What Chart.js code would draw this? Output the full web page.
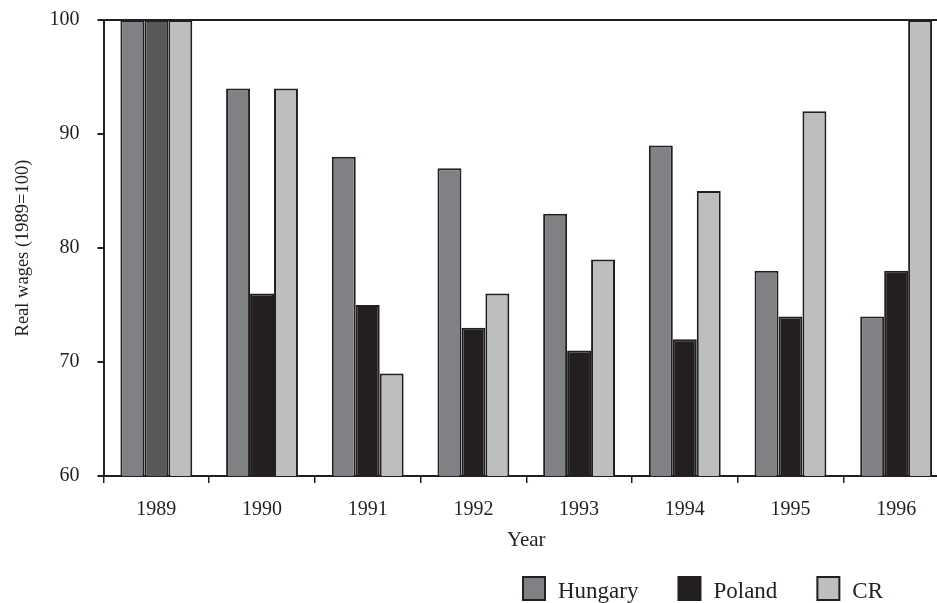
<!DOCTYPE html>
<html>
<head>
<meta charset="utf-8">
<script src="https://cdn.jsdelivr.net/npm/chart.js@4/dist/chart.umd.min.js"></script>
<style>
  html, body { margin: 0; padding: 0; background: #fff; overflow: hidden; }
  #wrap { position: relative; width: 964px; height: 603px; }
</style>
</head>
<body>
<div id="wrap"><canvas id="diagram"></canvas></div>
<script>
let years = ['1989', '1990', '1991', '1992', '1993', '1994', '1995', '1996'];
let hungary = [100, 94, 88, 87, 83, 89, 78, 74];
let poland = [100, 76, 75, 73, 71, 72, 74, 78];
let cr = [100, 94, 69, 76, 79, 85, 92, 100];
let seriesNames = ['Hungary', 'Poland', 'CR'];
let yTicks = [60, 70, 80, 90, 100];

let ink = '#231f20';
let seriesColors = ['#808184', '#231f20', '#bcbec0'];
// the base year bar for Poland is printed a shade lighter
let polandColors = poland.map((v, i) => i === 0 ? '#58595b' : seriesColors[1]);

let serif = '"Liberation Serif", "Times New Roman", serif';

// legend drawn by hand, bottom right
let legendPlugin = {
    id: 'bottomLegend',
    afterDraw(chart) {
        let ctx = chart.ctx;
        ctx.save();
        ctx.font = '23px ' + serif;
        ctx.textBaseline = 'alphabetic';
        let x = 523;
        chart.data.datasets.forEach((ds, i) => {
            ctx.fillStyle = seriesColors[i];
            ctx.fillRect(x, 577, 22, 23);
            ctx.lineWidth = 2;
            ctx.strokeStyle = ink;
            ctx.strokeRect(x, 577, 22, 23);
            ctx.fillStyle = ink;
            ctx.fillText(ds.label, x + 35, 598);
            x += 35 + ctx.measureText(ds.label).width + 40;
        });
        ctx.restore();
    }
};

let datasets = [
    { label: seriesNames[0], data: hungary, backgroundColor: seriesColors[0] },
    { label: seriesNames[1], data: poland, backgroundColor: polandColors },
    { label: seriesNames[2], data: cr, backgroundColor: seriesColors[2] }
].map(d => Object.assign(d, {
    borderColor: ink,
    borderWidth: 2,
    categoryPercentage: 0.68,
    barPercentage: 1.0
}));

new Chart(document.getElementById('diagram'), {
    type: 'bar',
    data: { labels: years, datasets: datasets },
    plugins: [legendPlugin],
    options: {
        responsive: true,
        maintainAspectRatio: false,
        animation: false,
        layout: { padding: { top: 20, left: 14, right: 15, bottom: 52.5 } },
        plugins: {
            legend: { display: false },
            tooltip: { enabled: false }
        },
        scales: {
            x: {
                grid: { drawOnChartArea: false, drawTicks: true, tickLength: 7, tickColor: ink, lineWidth: 1.5 },
                border: { color: ink, width: 2 },
                ticks: { color: ink, font: { family: serif, size: 20, lineHeight: 1 }, padding: 17 },
                title: { display: true, text: 'Year', color: ink, font: { family: serif, size: 21, lineHeight: 1 }, padding: { top: -7.5, bottom: 0 } }
            },
            y: {
                min: 60,
                max: 100,
                afterBuildTicks: axis => { axis.ticks = yTicks.map(v => ({ value: v })); },
                // labels may stick out over the top, the page padding handles it
                afterFit: axis => { axis.paddingTop = 0; axis.paddingBottom = 0; },
                grid: {
                    color: c => c.tick && c.tick.value === 100 ? ink : 'rgba(0,0,0,0)',
                    lineWidth: 2,
                    tickColor: ink,
                    tickLength: 6
                },
                border: { color: ink, width: 2 },
                ticks: { color: ink, font: { family: serif, size: 20 }, padding: 18 },
                title: { display: true, text: 'Real wages (1989=100)', color: ink, font: { family: serif, size: 18.5, lineHeight: 1 }, padding: { top: 0, bottom: -1 } }
            }
        }
    }
});
</script>
</body>
</html>
